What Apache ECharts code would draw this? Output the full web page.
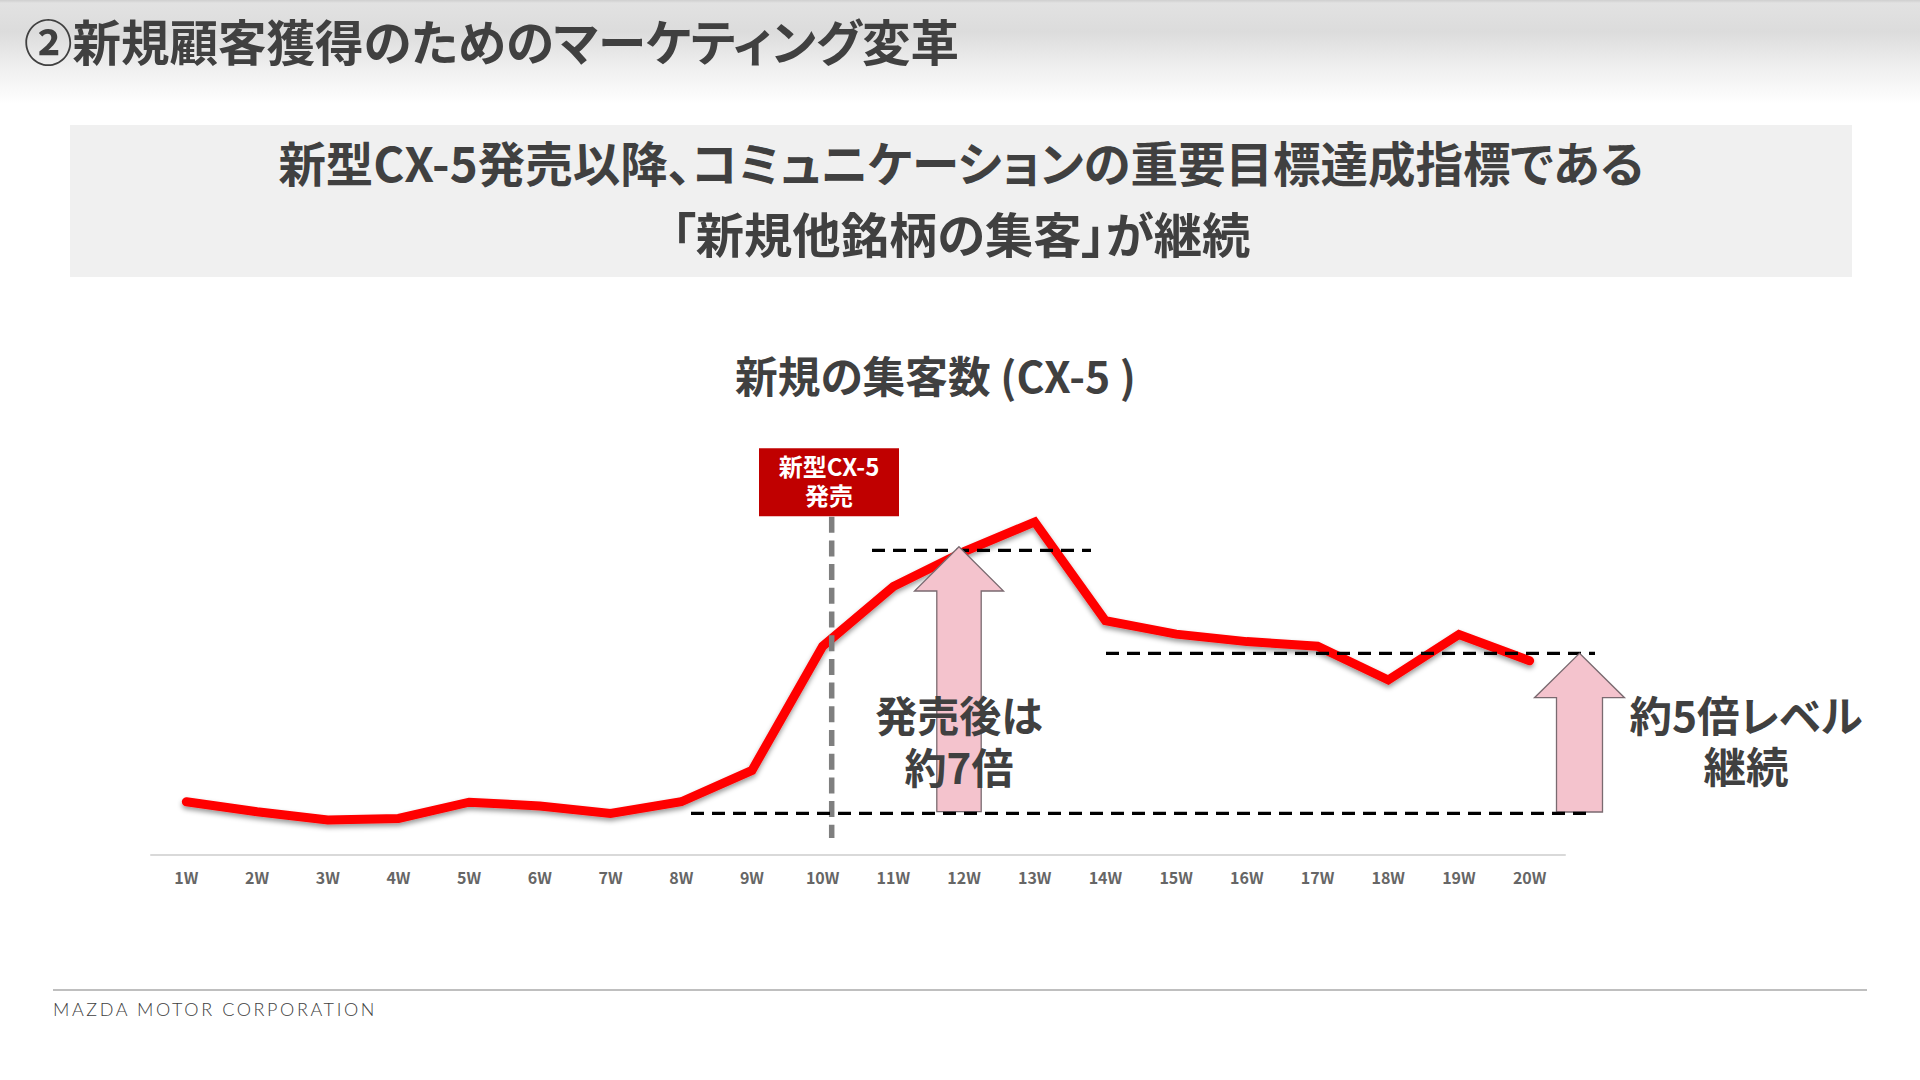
<!DOCTYPE html>
<html lang="ja"><head><meta charset="utf-8">
<style>html,body{margin:0;padding:0;background:#fff}#c{width:1920px;height:1080px}
svg text[style*="CJK"]{font-feature-settings:"palt"}
svg text[style*="Lato"]{letter-spacing:2.6px}
</style>
<script src="https://cdn.jsdelivr.net/npm/echarts@6/dist/echarts.min.js"></script>
</head><body><div id="c"></div>
<script>
const weeks = ['1W','2W','3W','4W','5W','6W','7W','8W','9W','10W','11W','12W','13W','14W','15W','16W','17W','18W','19W','20W'];
const visitors = [127,103,83,87,126,117,99,127,202,500,643,727,798,561,529,511,500,419,528,465];
const levelBase = 99;
const levelPeak = 730;
const levelKeep = 483;
const JP = '"Noto Sans CJK JP"';
const ink = '#404040';

const chart = echarts.init(document.getElementById('c'), null, {renderer:'svg', width:1920, height:1080});
chart.setOption({
  animation:false,
  backgroundColor:'#fff',
  title:{text:'新規の集客数 (CX-5 )', left:930.5, top:368.5, textAlign:'center', textVerticalAlign:'middle',
    textStyle:{fontFamily:JP, fontWeight:'bold', fontSize:42.7, color:ink}},
  grid:{left:151, right:355, top:437.7, height:417, containLabel:false},
  xAxis:{type:'category', data:weeks, boundaryGap:true,
    axisLine:{lineStyle:{color:'#d9d9d9', width:2}}, axisTick:{show:false},
    axisLabel:{interval:0, margin:14, fontFamily:JP, fontWeight:'bold', fontSize:16, color:'#666666'}},
  yAxis:{type:'value', min:0, max:1000, show:false, splitLine:{show:false}},
  series:[{type:'line', data:visitors, symbol:'none', smooth:false, z:2, silent:true,
    lineStyle:{color:'#ff0000', width:9, cap:'round', join:'miter',
      shadowColor:'rgba(0,0,0,0.4)', shadowBlur:5, shadowOffsetY:3}}]
});

const py = v => chart.convertToPixel({yAxisIndex:0}, v);
const yBase = py(levelBase), yPeak = py(levelPeak), yKeep = py(levelKeep);

function dash(x1,y1,x2,y2,z,color,w,d){
  return {type:'line', z:z, silent:true, shape:{x1,y1,x2,y2},
    style:{stroke:color, lineWidth:w, lineDash:d}};
}
function arrow(cx,tip,headBase,bottom,headHalf,shaftHalf,z){
  return {type:'polygon', z:z, silent:true, shape:{points:[
    [cx,tip],[cx+headHalf,headBase],[cx+shaftHalf,headBase],[cx+shaftHalf,bottom],
    [cx-shaftHalf,bottom],[cx-shaftHalf,headBase],[cx-headHalf,headBase]]},
    style:{fill:'#f4c3cd', stroke:'#7a6a70', lineWidth:1.3}};
}
function txt(text,x,y,size,fill,z,lh){
  return {type:'text', z:z, silent:true, x, y,
    style:{text, fontFamily:JP, fontWeight:'bold', fontSize:size, fill, align:'center', verticalAlign:'middle', lineHeight:lh||size*1.2}};
}

chart.setOption({graphic:{elements:[
  {type:'rect', z:-2, silent:true, shape:{x:0,y:0,width:1920,height:104},
    style:{fill:new echarts.graphic.LinearGradient(0,0,0,1,[
      {offset:0,color:'#cfcfcf'},{offset:0.03,color:'#e2e2e2'},{offset:0.3,color:'#dcdcdc'},
      {offset:0.65,color:'#efefef'},{offset:1,color:'#ffffff'}])}},
  txt('②新規顧客獲得のためのマーケティング変革',491.5,40,48.5,ink,10),
  {type:'rect', z:-2, silent:true, shape:{x:70,y:125,width:1782,height:152}, style:{fill:'#f0f0f0'}},
  txt('新型CX-5発売以降、コミュニケーションの重要目標達成指標である',961,161.5,47.5,ink,10),
  txt('「新規他銘柄の集客」が継続',961,231.5,48.3,ink,10),

  dash(872,yPeak,1091,yPeak,4,'#000',3.2,[13,8]),
  dash(1106,yKeep,1595,yKeep,4,'#000',3.2,[13,8]),
  dash(831.7,516.7,831.7,838,4,'#7f7f7f',5.5,[16,7.7]),
  arrow(959,546.7,591,811.7,44.5,22.2,5),
  arrow(1579.5,653.3,697.7,812,45,23,5),
  dash(691,yBase,1590,yBase,6,'#000',3.2,[13,8]),

  {type:'rect', z:7, silent:true, shape:{x:759,y:448.3,width:140,height:68}, style:{fill:'#c00000'}},
  txt('新型CX-5\n発売',829,479.5,24,'#fff',8,29),
  txt('発売後は\n約7倍',959,739.3,42,ink,9,51.5),
  txt('約5倍レベル\n継続',1746,739.3,42.5,ink,9,51),

  {type:'rect', z:1, silent:true, shape:{x:53,y:989,width:1814,height:2}, style:{fill:'#bfbfbf'}},
  {type:'text', z:1, silent:true, x:53, y:1009,
    style:{text:'MAZDA MOTOR CORPORATION', fontFamily:'Lato', fontWeight:300, fontSize:18, fill:'#404040', align:'left', verticalAlign:'middle'}}
]}});
</script></body></html>
